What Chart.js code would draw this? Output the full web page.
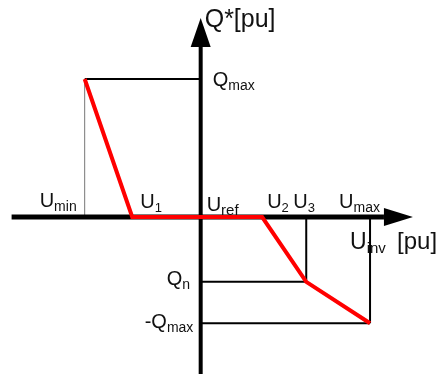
<!DOCTYPE html>
<html><head><meta charset="utf-8">
<script src="https://cdn.jsdelivr.net/npm/chart.js@4/dist/chart.umd.min.js"></script>
<style>html,body{margin:0;padding:0;background:#fff}#wrap{width:438px;height:374px}</style>
</head><body><div id="wrap"><canvas id="c" width="438" height="374"></canvas></div>
<script>
// Characteristic voltages U (pu)
const uNames  = ['U', 'U', 'U', 'U', 'U', 'U'];
const uSubs   = ['min', '1', 'ref', '2', '3', 'max'];
const uValues = [0.900, 0.941, 1.000, 1.053, 1.091, 1.146];
// Reactive power levels Q (pu)
const qNames  = ['Q', 'Q', '-Q'];
const qSubs   = ['max', 'n', 'max'];
const qValues = [1.00, -0.47, -0.77];
// Q(U) droop curve
const curveU = [0.900, 0.941, 1.053, 1.091, 1.146];
const curveQ = [1.00, 0.00, 0.00, -0.47, -0.77];
// Axis titles
const xTitle = ['U', 'inv', '[pu]'];
const yTitle = 'Q*[pu]';
// Axis extents (data units)
const axisU = [0.837, 1.158, 1.183];   // start, arrow base, arrow tip
const axisQ = [-1.14, 1.232, 1.442];   // bottom, arrow base, arrow tip

const [Umin, U1, Uref, U2, U3, Umax] = uValues;
const [Qmax, Qn, QmaxNeg] = qValues;

const seg = (a, b) => [{x: a[0], y: a[1]}, {x: b[0], y: b[1]}];
const lineDs = (data, color, width) => ({
  data, borderColor: color, borderWidth: width, showLine: true,
  pointRadius: 0, fill: false, tension: 0, borderCapStyle: 'butt'
});

const datasets = [
  lineDs(curveU.map((u, i) => ({x: u, y: curveQ[i]})), '#ff0000', 4),
  lineDs(seg([axisU[0], 0], [axisU[1], 0]), '#000', 5),
  lineDs(seg([Uref, axisQ[0]], [Uref, axisQ[1]]), '#000', 4),
  lineDs(seg([Umin, Qmax], [Uref, Qmax]), '#000', 2),
  lineDs(seg([Umin, 0], [Umin, Qmax]), '#777', 1),
  lineDs(seg([U3, 0], [U3, Qn]), '#000', 2),
  lineDs(seg([Uref, Qn], [U3, Qn]), '#000', 2),
  lineDs(seg([Umax, 0], [Umax, QmaxNeg]), '#000', 2),
  lineDs(seg([Uref, QmaxNeg], [Umax, QmaxNeg]), '#000', 2)
];

const FONT = '"Liberation Sans", Arial, sans-serif';
function label(ctx, x, y, main, sub, size, subSize, subDrop) {
  ctx.textAlign = 'left';
  ctx.textBaseline = 'alphabetic';
  ctx.font = size + 'px ' + FONT;
  ctx.fillText(main, x, y);
  const cx = x + ctx.measureText(main).width;
  if (sub) {
    ctx.font = subSize + 'px ' + FONT;
    ctx.fillText(sub, cx, y + subDrop);
  }
}

const overlay = {
  id: 'overlay',
  afterDatasetsDraw(chart) {
    const ctx = chart.ctx, xs = chart.scales.x, ys = chart.scales.y;
    const X = v => xs.getPixelForValue(v), Y = v => ys.getPixelForValue(v);
    ctx.save();
    ctx.fillStyle = '#000';
    // arrowheads
    const y0 = Y(0), x0 = X(Uref);
    ctx.beginPath();
    ctx.moveTo(X(axisU[2]), y0);
    ctx.lineTo(X(axisU[1]), y0 - 9);
    ctx.lineTo(X(axisU[1]), y0 + 9);
    ctx.closePath(); ctx.fill();
    ctx.beginPath();
    ctx.moveTo(x0, Y(axisQ[2]));
    ctx.lineTo(x0 - 10, Y(axisQ[1]));
    ctx.lineTo(x0 + 10, Y(axisQ[1]));
    ctx.closePath(); ctx.fill();

    ctx.fillStyle = '#111';
    // U labels above the horizontal axis
    const uOff = [-45, 8, 6, 5, -13, -31];
    const uBase = [-10, -9, -6, -9, -9, -9];
    const uSubSize = [14, 13, 15, 13, 13, 14];
    uValues.forEach((u, i) => label(ctx, X(u) + uOff[i], y0 + uBase[i], uNames[i], uSubs[i], 20, uSubSize[i], 4));
    // Q labels
    const qX = [12, -34, -56];
    const qB = [7, 3, 5];
    qValues.forEach((q, i) => label(ctx, x0 + qX[i], Y(q) + qB[i], qNames[i], qSubs[i], 20, 14, 4));
    // axis titles
    label(ctx, x0 + 4, Y(axisQ[2]) + 9, yTitle, '', 25, 14, 0);
    label(ctx, X(Umax) - 20, y0 + 32, xTitle[0], xTitle[1], 23, 15, 4);
    ctx.font = '24px ' + FONT;
    ctx.fillText(xTitle[2], X(Umax) + 27, y0 + 32);
    ctx.restore();
  }
};

new Chart(document.getElementById('c'), {
  type: 'scatter',
  data: { datasets },
  options: {
    responsive: false, animation: false, devicePixelRatio: 1,
    layout: { padding: 0 },
    plugins: { legend: { display: false }, tooltip: { enabled: false } },
    scales: {
      x: { type: 'linear', display: false, min: 0.827, max: 0.827 + 438 / 1160 },
      y: { type: 'linear', display: false, min: 1.5725 - 374 / 138, max: 1.5725 }
    }
  },
  plugins: [overlay]
});
</script></body></html>
